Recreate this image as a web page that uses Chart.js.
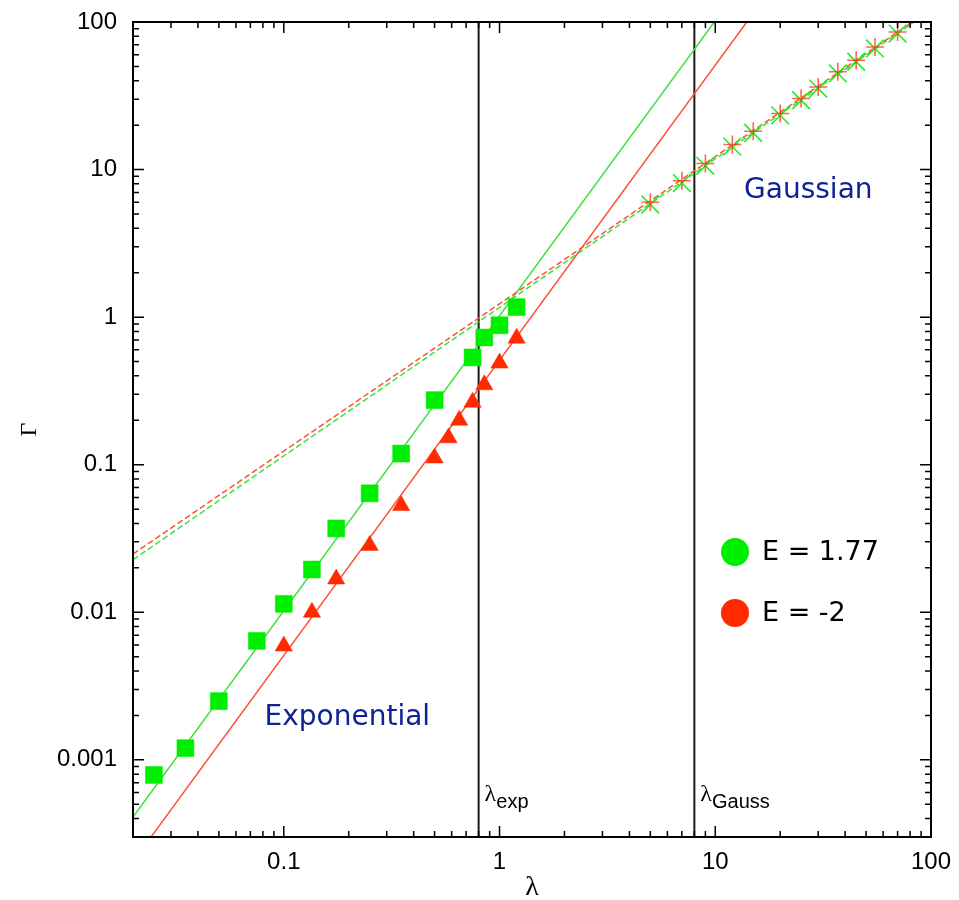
<!DOCTYPE html>
<html>
<head>
<meta charset="utf-8">
<title>Γ(λ)</title>
<script src="https://cdn.jsdelivr.net/npm/chart.js@4.4.1/dist/chart.umd.min.js"></script>
<style>
  html, body { margin: 0; padding: 0; background: #fff; }
</style>
</head>
<body>
<canvas id="gamma" width="959" height="900"></canvas>
<script>
// exponential regime: E = 1.77 (squares), E = -2 (triangles)
const sqLambda  = [0.025, 0.035, 0.05, 0.075, 0.1, 0.135, 0.175, 0.25, 0.35, 0.5, 0.75, 0.85, 1.0, 1.2]
const sqGamma   = [0.00079, 0.0012, 0.0025, 0.0064, 0.0114, 0.0195, 0.037, 0.064, 0.119, 0.274, 0.533, 0.728, 0.881, 1.17]
const triLambda = [0.1, 0.135, 0.175, 0.25, 0.35, 0.5, 0.58, 0.65, 0.75, 0.85, 1.0, 1.2]
const triGamma  = [0.0059, 0.0100, 0.0168, 0.0284, 0.0529, 0.111, 0.152, 0.200, 0.265, 0.348, 0.488, 0.72]

// gaussian regime (x for E = 1.77, + for E = -2)
const gaussLambda     = [5, 7, 9, 12, 15, 20, 25, 30, 37, 45, 55, 70]
const gaussGammaGreen = [5.8, 8.1, 10.6, 14.3, 17.7, 23.3, 29.5, 35.4, 44.8, 53.8, 66.2, 83.5]
const gaussGammaRed   = [6.0, 8.4, 11.0, 14.8, 18.2, 24.0, 30.3, 36.3, 46.0, 55.0, 67.7, 85.5]

// fitted power laws, end points only (solid ~ λ², dashed ~ λ)
const expFitLambdaGreen  = [0.02, 10]
const expFitGammaGreen   = [0.00041, 102]
const expFitLambdaRed    = [0.02, 14]
const expFitGammaRed     = [0.000204, 100]
const gaussFitLambda     = [0.02, 100]
const gaussFitGammaGreen = [0.0227, 120]
const gaussFitGammaRed   = [0.0248, 122]

// crossover scales
const lambdaExp   = 0.8
const lambdaGauss = 8

// axes
const xRange = [0.02, 100]
const yRange = [0.0003, 100]
const xTickValues = [0.1, 1, 10, 100]
const xTickLabels = ['0.1', '1', '10', '100']
const yTickValues = [0.001, 0.01, 0.1, 1, 10, 100]
const yTickLabels = ['0.001', '0.01', '0.1', '1', '10', '100']

const seriesNames  = ['E = 1.77', 'E = -2']
const seriesColors = ['#00ee00', '#ff2a00']

const GREEN_LINE = '#3ee03e'
const RED_LINE   = '#ff5236'

const pts = (xs, ys) => xs.map((x, i) => ({ x, y: ys[i] }))

const decadeLabel = (values, labels) => value => {
  const i = values.findIndex(v => Math.abs(Math.log10(v) - Math.log10(value)) < 1e-6)
  return i >= 0 ? labels[i] : ''
}

// inward log ticks on all four sides, frame, in-plot text
const framePlugin = {
  id: 'frame',
  afterDatasetsDraw(chart) {
    const { ctx, chartArea: a, scales: { x, y } } = chart
    ctx.save()
    ctx.strokeStyle = '#000'
    ctx.lineWidth = 1.5
    ctx.beginPath()
    const logTicks = (scale, cb) => {
      const lo = Math.floor(Math.log10(scale.min)), hi = Math.ceil(Math.log10(scale.max))
      for (let e = lo; e <= hi; e++) {
        for (let m = 1; m <= 9; m++) {
          const v = m * Math.pow(10, e)
          if (v < scale.min * 0.9999 || v > scale.max * 1.0001) continue
          cb(scale.getPixelForValue(v), m === 1 ? 11 : 6)
        }
      }
    }
    logTicks(x, (p, len) => {
      ctx.moveTo(p, a.bottom); ctx.lineTo(p, a.bottom - len)
      ctx.moveTo(p, a.top);    ctx.lineTo(p, a.top + len)
    })
    logTicks(y, (p, len) => {
      ctx.moveTo(a.left, p);  ctx.lineTo(a.left + len, p)
      ctx.moveTo(a.right, p); ctx.lineTo(a.right - len, p)
    })
    ctx.stroke()
    ctx.lineWidth = 2
    ctx.strokeRect(a.left, a.top, a.right - a.left, a.bottom - a.top)

    // λ_exp, λ_Gauss labels next to the vertical lines
    const sub = (px, main, low) => {
      const baseY = a.bottom - 36
      ctx.fillStyle = '#000'
      ctx.textAlign = 'left'
      ctx.textBaseline = 'alphabetic'
      ctx.font = '24px "Liberation Serif"'
      ctx.fillText(main, px + 6, baseY)
      const w = ctx.measureText(main).width
      ctx.font = '20px "Liberation Sans"'
      ctx.fillText(low, px + 6 + w, baseY + 7)
    }
    sub(x.getPixelForValue(lambdaExp), 'λ', 'exp')
    sub(x.getPixelForValue(lambdaGauss), 'λ', 'Gauss')

    // regime names
    ctx.fillStyle = '#0f2396'
    ctx.font = '28px "DejaVu Sans"'
    ctx.textAlign = 'center'
    ctx.textBaseline = 'middle'
    ctx.fillText('Gaussian', x.getPixelForValue(27), y.getPixelForValue(7.2))
    ctx.fillText('Exponential', x.getPixelForValue(0.197), y.getPixelForValue(0.00192))

    // key
    ctx.font = '27px "DejaVu Sans"'
    ctx.textAlign = 'left'
    seriesNames.forEach((name, i) => {
      const cx = a.left + 602, cy = a.top + 530 + i * 61
      ctx.fillStyle = seriesColors[i]
      ctx.beginPath()
      ctx.arc(cx, cy, 14, 0, Math.PI * 2)
      ctx.fill()
      ctx.fillStyle = '#000'
      ctx.fillText(name, cx + 27, cy + 1)
    })
    ctx.restore()
  }
}

const fitLine = (data, color, dash) => ({
  data, showLine: true, pointRadius: 0, borderColor: color, borderWidth: 1.5,
  borderDash: dash || [], fill: false
})

const vLine = v => ({
  data: pts([v, v], yRange), showLine: true, pointRadius: 0,
  borderColor: '#1a1a1a', borderWidth: 2
})

// no chart.js tick marks, the plugin draws them inward
const noGrid = { display: false, drawTicks: false, tickLength: 0 }

// first dataset ends up on top
new Chart(document.getElementById('gamma'), {
  type: 'scatter',
  data: {
    datasets: [
      {
        data: pts(gaussLambda, gaussGammaRed), pointStyle: 'cross', pointRadius: 9,
        borderColor: 'rgba(255, 50, 20, 0.75)', borderWidth: 1.6, backgroundColor: 'transparent'
      },
      {
        data: pts(gaussLambda, gaussGammaGreen), pointStyle: 'crossRot', pointRadius: 12.5,
        borderColor: '#22ee22', borderWidth: 1.6, backgroundColor: 'transparent'
      },
      {
        data: pts(triLambda, triGamma), pointStyle: 'triangle', pointRadius: 10,
        backgroundColor: seriesColors[1], borderColor: seriesColors[1], borderWidth: 0.5
      },
      {
        data: pts(sqLambda, sqGamma), pointStyle: 'rect', pointRadius: 12,
        backgroundColor: seriesColors[0], borderColor: seriesColors[0], borderWidth: 0.5
      },
      fitLine(pts(gaussFitLambda, gaussFitGammaRed), RED_LINE, [6, 3]),
      fitLine(pts(gaussFitLambda, gaussFitGammaGreen), GREEN_LINE, [6, 3]),
      fitLine(pts(expFitLambdaRed, expFitGammaRed), RED_LINE),
      fitLine(pts(expFitLambdaGreen, expFitGammaGreen), GREEN_LINE),
      vLine(lambdaExp),
      vLine(lambdaGauss)
    ]
  },
  options: {
    responsive: false,
    animation: false,
    layout: { padding: { top: 22, right: 28, left: 0, bottom: 0 } },
    plugins: { legend: { display: false }, tooltip: { enabled: false } },
    scales: {
      x: {
        type: 'logarithmic',
        min: xRange[0], max: xRange[1],
        grid: noGrid,
        border: { display: false },
        ticks: {
          autoSkip: false, maxRotation: 0, padding: 11, color: '#000',
          font: { family: '"Liberation Sans"', size: 24 },
          callback: decadeLabel(xTickValues, xTickLabels)
        },
        title: {
          display: true, text: 'λ', color: '#000',
          font: { family: '"Liberation Serif"', size: 28 },
          padding: { top: 0, bottom: -4 }
        },
        afterFit(scale) {
          scale.height = 63
          scale.paddingLeft = scale.paddingRight = 0
        }
      },
      y: {
        type: 'logarithmic',
        min: yRange[0], max: yRange[1],
        grid: noGrid,
        border: { display: false },
        ticks: {
          autoSkip: false, padding: 16, color: '#000',
          font: { family: '"Liberation Sans"', size: 24 },
          callback: decadeLabel(yTickValues, yTickLabels)
        },
        title: {
          display: true, text: 'Γ', color: '#000',
          font: { family: '"Liberation Serif"', size: 24 },
          padding: { top: 15, bottom: 0 }
        },
        afterFit(scale) {
          scale.width = 133
          scale.paddingTop = scale.paddingBottom = 0
        }
      }
    }
  },
  plugins: [framePlugin]
})
</script>
</body>
</html>
